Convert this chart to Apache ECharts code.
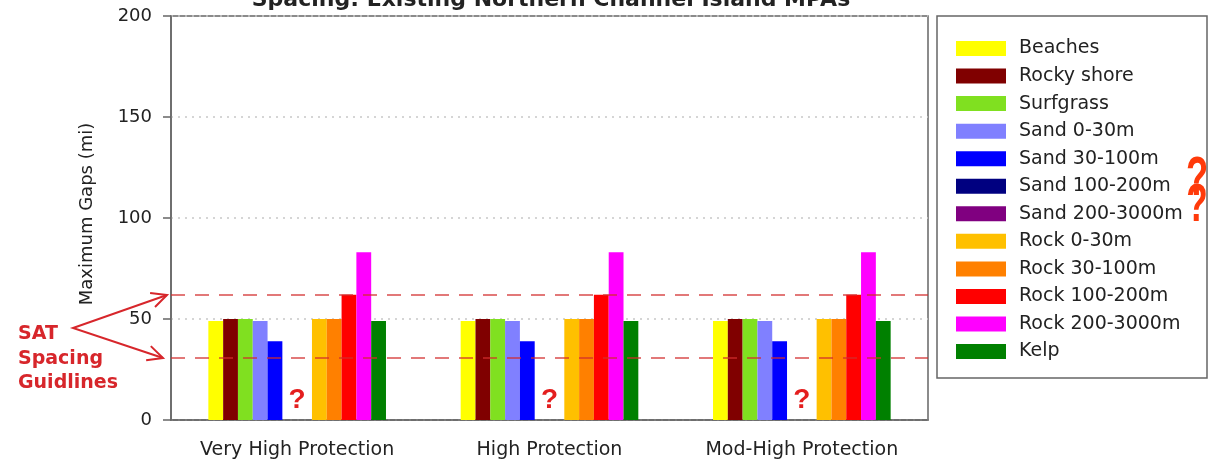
<!DOCTYPE html>
<html>
<head>
<meta charset="utf-8">
<script src="https://cdn.jsdelivr.net/npm/echarts@6/dist/echarts.min.js"></script>
<style>
html,body{margin:0;padding:0;background:#fff;}
#chart{width:1211px;height:463px;}
</style>
</head>
<body>
<div id="chart"></div>
<script>
// ---- data ----
const categories = ['Very High Protection', 'High Protection', 'Mod-High Protection'];
const seriesNames = ['Beaches', 'Rocky shore', 'Surfgrass', 'Sand 0-30m', 'Sand 30-100m', 'Sand 100-200m',
  'Sand 200-3000m', 'Rock 0-30m', 'Rock 30-100m', 'Rock 100-200m', 'Rock 200-3000m', 'Kelp'];
const beaches      = [49, 49, 49];
const rockyShore   = [50, 50, 50];
const surfgrass    = [50, 50, 50];
const sand0_30     = [49, 49, 49];
const sand30_100   = [39, 39, 39];
const sand100_200  = [null, null, null];
const sand200_3000 = [null, null, null];
const rock0_30     = [50, 50, 50];
const rock30_100   = [50, 50, 50];
const rock100_200  = [62, 62, 62];
const rock200_3000 = [83, 83, 83];
const kelp         = [49, 49, 49];
const satGuidelines = [31, 62];
const unknownMarkY = [10, 10, 10];
const yMin = 0, yMax = 200, yInterval = 50;
const titleText = 'Spacing: Existing Northern Channel Island MPAs';
const yAxisName = 'Maximum Gaps (mi)';
const annotationText = 'SAT\nSpacing\nGuidlines';

const seriesValues = [beaches, rockyShore, surfgrass, sand0_30, sand30_100, sand100_200,
  sand200_3000, rock0_30, rock30_100, rock100_200, rock200_3000, kelp];
const colors = ['#ffff00', '#800000', '#80e020', '#8080ff', '#0000ff', '#000080',
  '#800080', '#ffc000', '#ff8000', '#ff0000', '#ff00ff', '#008000'];

const FONT = 'DejaVu Sans';
const RED = '#d7262b';

const series = seriesNames.map((name, i) => ({
  name: name,
  type: 'bar',
  data: seriesValues[i],
  barGap: '0%',
  barCategoryGap: '29.6%',
  itemStyle: { color: colors[i] },
  silent: true,
  markLine: i === 0 ? {
    silent: true,
    symbol: 'none',
    label: { show: false },
    lineStyle: { color: 'rgba(210,45,45,0.85)', width: 1.5, type: [14, 10] },
    data: satGuidelines.map(v => ({ yAxis: v }))
  } : undefined
}));

series.push({
  name: 'unknown',
  type: 'scatter',
  data: unknownMarkY,
  symbolSize: 0,
  silent: true,
  itemStyle: { color: '#e41e1e', opacity: 1 },
  label: {
    show: true, position: 'inside', formatter: '?', opacity: 1,
    fontFamily: 'Liberation Sans', fontWeight: 'bold', fontSize: 28, color: '#e41e1e',
    textBorderWidth: 0
  }
});

// arrow geometry helper for annotation
function arrowHead(tip, from, len, ang) {
  const a = Math.atan2(tip[1] - from[1], tip[0] - from[0]);
  return [
    [tip[0] - len * Math.cos(a - ang), tip[1] - len * Math.sin(a - ang)],
    tip,
    [tip[0] - len * Math.cos(a + ang), tip[1] - len * Math.sin(a + ang)]
  ];
}
const vtx = [73, 328], tipUp = [167, 295], tipDown = [163, 358];

const chart = echarts.init(document.getElementById('chart'), null, { renderer: 'canvas' });
chart.setOption({
  backgroundColor: '#fff',
  animation: false,
  color: colors,
  grid: { left: 171, right: 283, top: 16, bottom: 43, show: true, borderColor: '#666', borderWidth: 1.5 },
  legend: {
    data: seriesNames,
    orient: 'vertical',
    left: 956, top: 39,
    padding: 0,
    itemWidth: 50, itemHeight: 15, itemGap: 8.55,
    icon: 'rect',
    selectedMode: false,
    textStyle: { fontFamily: FONT, fontSize: 19, color: '#222', padding: [0, 0, 0, 8] }
  },
  xAxis: {
    type: 'category',
    data: categories,
    axisLine: { lineStyle: { color: '#666', width: 1.5 } },
    axisTick: { alignWithLabel: true, length: 8, lineStyle: { color: '#666', width: 1.5 } },
    axisLabel: { interval: 0, fontFamily: FONT, fontSize: 19, color: '#222', margin: 21 }
  },
  yAxis: {
    type: 'value',
    min: yMin, max: yMax, interval: yInterval,
    axisLine: { show: true, lineStyle: { color: '#666', width: 1.5 } },
    axisTick: { show: true, length: 8, lineStyle: { color: '#666', width: 1.5 } },
    axisLabel: { fontFamily: FONT, fontSize: 18, color: '#222', margin: 19 },
    splitLine: { show: true, lineStyle: { color: '#c8c8c8', width: 1.5, type: [2, 5] } }
  },
  series: series,
  graphic: [
    { type: 'text', x: 551, y: 0, silent: true,
      style: { text: titleText, font: 'bold 22px "DejaVu Sans"', fill: '#222', align: 'center', verticalAlign: 'middle' } },
    { type: 'text', x: 87, y: 214, rotation: Math.PI / 2, silent: true,
      style: { text: yAxisName, font: '18px "DejaVu Sans"', fill: '#222', align: 'center', verticalAlign: 'middle' } },
    { type: 'text', x: 18, y: 322, silent: true,
      style: { text: annotationText, font: 'bold 19px "DejaVu Sans"', fill: RED, lineHeight: 24.5, align: 'left', verticalAlign: 'top' } },
    { type: 'polyline', silent: true, shape: { points: [tipUp, vtx, tipDown] },
      style: { stroke: RED, lineWidth: 2, fill: null } },
    { type: 'polyline', silent: true, shape: { points: arrowHead(tipUp, vtx, 17, 0.45) },
      style: { stroke: RED, lineWidth: 2, fill: null } },
    { type: 'polyline', silent: true, shape: { points: arrowHead(tipDown, vtx, 17, 0.45) },
      style: { stroke: RED, lineWidth: 2, fill: null } },
    { type: 'rect', silent: true, shape: { x: 937, y: 16, width: 270, height: 362 },
      style: { stroke: '#666', lineWidth: 1.5, fill: null } },
    { type: 'text', x: 1197, y: 180, scaleX: 0.65, silent: true,
      style: { text: '?', font: 'bold 56px "Liberation Sans"', fill: '#ff3a0a', align: 'center', verticalAlign: 'middle' } },
    { type: 'text', x: 1197, y: 206, scaleX: 0.65, silent: true,
      style: { text: '?', font: 'bold 54px "Liberation Sans"', fill: '#ff3a0a', align: 'center', verticalAlign: 'middle' } }
  ]
});
</script>
</body>
</html>
